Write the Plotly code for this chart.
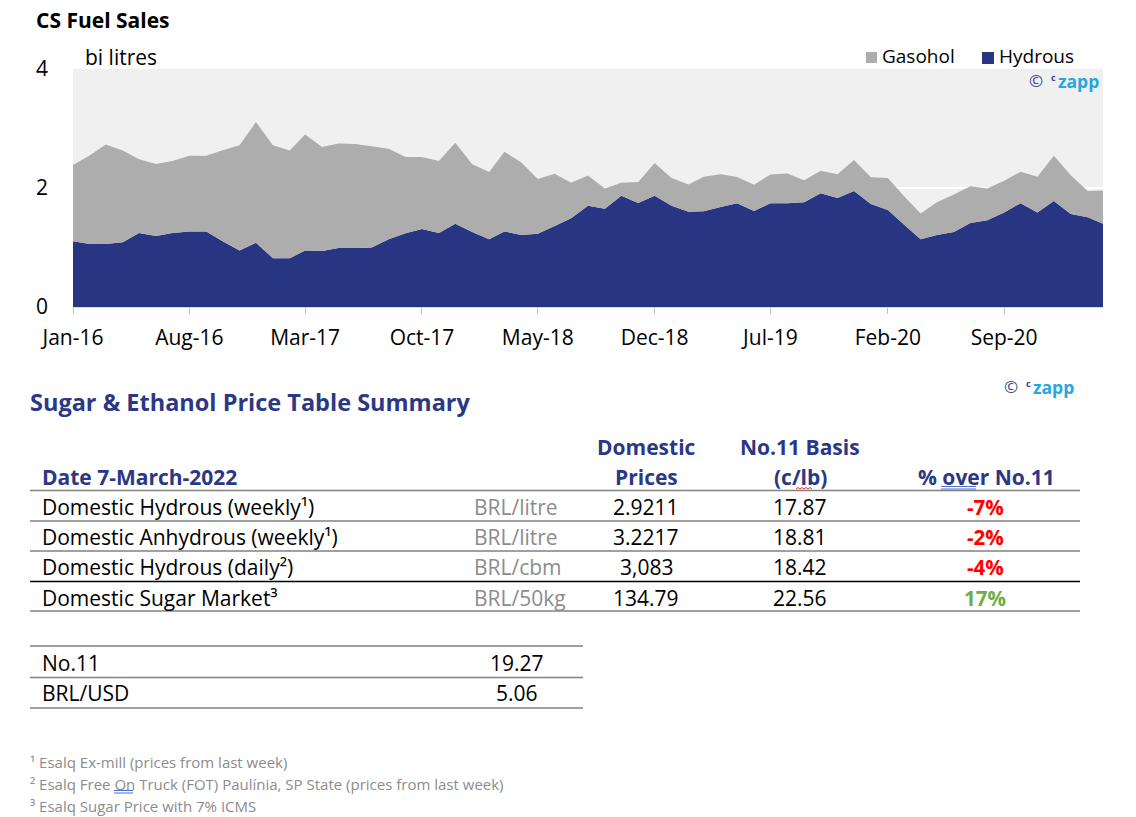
import plotly.graph_objects as go
import pandas as pd

W, H = 1136, 817
FONT = "Open Sans"
NAVY = "#283583"
GREY_FILL = "#ADADAD"
TXT_NAVY = "#2B3885"

# ---------------- data ----------------
months = pd.date_range("2016-01-01", periods=63, freq="MS")

hydrous = [1.105, 1.06, 1.06, 1.09, 1.245, 1.195, 1.245, 1.27, 1.27, 1.105,
           0.95, 1.08, 0.82, 0.82, 0.95, 0.94, 0.99, 0.99, 1.00, 1.14,
           1.24, 1.31, 1.245, 1.40, 1.26, 1.14, 1.27, 1.21, 1.23, 1.36,
           1.49, 1.70, 1.65, 1.87, 1.75, 1.87, 1.70, 1.60, 1.61, 1.68,
           1.745, 1.615, 1.745, 1.745, 1.76, 1.91, 1.83, 1.95, 1.73, 1.63,
           1.39, 1.14, 1.21, 1.26, 1.41, 1.46, 1.59, 1.745, 1.59, 1.78,
           1.565, 1.51, 1.40]

gasohol = [1.28, 1.49, 1.67, 1.54, 1.24, 1.21, 1.21, 1.27, 1.27, 1.53,
           1.77, 2.03, 1.90, 1.81, 1.95, 1.75, 1.76, 1.75, 1.70, 1.52,
           1.28, 1.21, 1.21, 1.36, 1.14, 1.13, 1.34, 1.22, 0.92, 0.88,
           0.60, 0.51, 0.34, 0.22, 0.35, 0.55, 0.47, 0.46, 0.58, 0.55,
           0.44, 0.44, 0.48, 0.50, 0.37, 0.38, 0.40, 0.52, 0.45, 0.54,
           0.48, 0.43, 0.55, 0.63, 0.62, 0.53, 0.53, 0.53, 0.60, 0.76,
           0.65, 0.44, 0.56]

tick_dates = ["2016-01-01", "2016-08-01", "2017-03-01", "2017-10-01", "2018-05-01",
              "2018-12-01", "2019-07-01", "2020-02-01", "2020-09-01"]
tick_labels = ["Jan-16", "Aug-16", "Mar-17", "Oct-17", "May-18",
               "Dec-18", "Jul-19", "Feb-20", "Sep-20"]
y_ticks = [0, 2, 4]

table_date = "Date 7-March-2022"
row_labels = ["Domestic Hydrous (weekly¹)",
              "Domestic Anhydrous (weekly¹)",
              "Domestic Hydrous (daily²)",
              "Domestic Sugar Market³"]
row_units = ["BRL/litre", "BRL/litre", "BRL/cbm", "BRL/50kg"]
domestic_prices = ["2.9211", "3.2217", "3,083", "134.79"]
no11_basis = ["17.87", "18.81", "18.42", "22.56"]
pct_over = ["-7%", "-2%", "-4%", "17%"]
ref_labels = ["No.11", "BRL/USD"]
ref_values = ["19.27", "5.06"]
footnotes = ["¹ Esalq Ex-mill (prices from last week)",
             "² Esalq Free On Truck (FOT) Paulínia, SP State (prices from last week)",
             "³ Esalq Sugar Price with 7% ICMS"]

# ---------------- helpers ----------------
def px(x):
    return x / W

def py(y):
    return 1 - y / H

annotations = []
shapes = []

def ann(text, x, y, size, color="#000000", bold=False, xanchor="left"):
    if bold:
        text = "<b>" + text + "</b>"
    annotations.append(dict(text=text, x=px(x), y=py(y), xref="paper", yref="paper",
                            xanchor=xanchor, yanchor="middle", showarrow=False,
                            borderpad=0,
                            font=dict(family=FONT, size=size, color=color)))

def hline(x0, x1, y, color="#808080", width=1.3):
    shapes.append(dict(type="line", xref="paper", yref="paper",
                       x0=px(x0), x1=px(x1), y0=py(y), y1=py(y),
                       line=dict(color=color, width=width)))

def watermark(xr, y):
    # "© czapp" logo text, right edge at xr
    ann("zapp", xr, y, 17.5, color="#29A6E2", bold=True, xanchor="right")
    ann("c", xr - 43, y - 3, 9, color="#3B3F98", bold=True, xanchor="right")
    ann("©", xr - 56, y, 17, color="#3B3F98", xanchor="right")

# ---------------- figure ----------------
fig = go.Figure()
fig.add_trace(go.Scatter(x=months, y=hydrous, name="Hydrous", stackgroup="one",
                         mode="none", fillcolor=NAVY, line=dict(width=0),
                         hoverinfo="x+y+name"))
fig.add_trace(go.Scatter(x=months, y=gasohol, name="Gasohol", stackgroup="one",
                         mode="none", fillcolor=GREY_FILL, line=dict(width=0),
                         hoverinfo="x+y+name"))

# chart texts
ann("CS Fuel Sales", 35, 20, 21, bold=True)
ann("bi litres", 84, 57, 21)
# legend (manual)
shapes.append(dict(type="rect", xref="paper", yref="paper", x0=px(866), x1=px(877),
                   y0=py(63), y1=py(52), fillcolor=GREY_FILL, line=dict(width=0)))
ann("Gasohol", 881, 55.5, 19)
shapes.append(dict(type="rect", xref="paper", yref="paper", x0=px(982), x1=px(994),
                   y0=py(64), y1=py(52), fillcolor=NAVY, line=dict(width=0)))
ann("Hydrous", 998, 55.5, 19)

watermark(1100, 80.5)

# table
ann("Sugar & Ethanol Price Table Summary", 29, 402, 23.5, color=TXT_NAVY, bold=True)
watermark(1075, 386.5)

ann(table_date, 41, 477, 21, color=TXT_NAVY, bold=True)
ann("Domestic", 646, 447, 21, color=TXT_NAVY, bold=True, xanchor="center")
ann("Prices", 646, 477, 21, color=TXT_NAVY, bold=True, xanchor="center")
ann("No.11 Basis", 800, 447, 21, color=TXT_NAVY, bold=True, xanchor="center")
ann("(c/lb)", 800, 477, 21, color=TXT_NAVY, bold=True, xanchor="center")
ann("% over No.11", 986, 477, 21, color=TXT_NAVY, bold=True, xanchor="center")

# spell-check marks seen in the source
shapes.append(dict(type="line", xref="paper", yref="paper", x0=px(941), x1=px(976),
                   y0=py(486.5), y1=py(486.5), line=dict(color="#4A6FD0", width=1)))
shapes.append(dict(type="line", xref="paper", yref="paper", x0=px(941), x1=px(976),
                   y0=py(489), y1=py(489), line=dict(color="#4A6FD0", width=1)))
zig = "M {} {}".format(px(796), py(489))
for k in range(1, 9):
    zig += " L {} {}".format(px(796 + 2 * k), py(489 - (1.5 if k % 2 else 0)))
shapes.append(dict(type="path", xref="paper", yref="paper", path=zig,
                   line=dict(color="#E03030", width=1)))

hline(30, 1080, 490.5)
row_y = [507, 536.5, 567, 597.5]
line_y = [521, 551, 581.5, 611]
for i in range(4):
    ann(row_labels[i], 41, row_y[i], 21)
    ann(row_units[i], 473, row_y[i], 21, color="#8C8C8C")
    ann(domestic_prices[i], 646, row_y[i], 21, xanchor="center")
    ann(no11_basis[i], 800, row_y[i], 21, xanchor="center")
    pc = "#70AD47" if not pct_over[i].startswith("-") else "#FF0000"
    ann(pct_over[i], 985, row_y[i], 20.5, color=pc, bold=True, xanchor="center")
    hline(30, 1080, line_y[i], color="#000000" if i == 2 else "#808080")

hline(30, 583, 646)
ref_y = [662.5, 693]
for i in range(2):
    ann(ref_labels[i], 41, ref_y[i], 21)
    ann(ref_values[i], 517, ref_y[i], 21, xanchor="center")
    hline(30, 583, [677.5, 708][i])

foot_y = [762, 784, 806]
for i in range(3):
    ann(footnotes[i], 29, foot_y[i], 15, color="#8C8C8C")
for yy in (790.5, 793):
    shapes.append(dict(type="line", xref="paper", yref="paper", x0=px(114), x1=px(133),
                       y0=py(yy), y1=py(yy), line=dict(color="#4A6FD0", width=1)))

fig.update_layout(
    width=W, height=H, autosize=False,
    margin=dict(l=0, r=0, t=0, b=0, pad=0),
    paper_bgcolor="white", plot_bgcolor="#F0F0F0",
    font=dict(family=FONT, size=18, color="#000000"),
    showlegend=False,
    annotations=annotations, shapes=shapes,
    xaxis=dict(type="date", domain=[px(73), px(1103)], automargin=False,
               range=[months[0], months[-1]],
               tickvals=tick_dates, ticktext=tick_labels,
               ticks="outside", ticklen=6, tickcolor="#BFBFBF", tickwidth=1.3,
               showgrid=False, showline=True, linecolor="#D9D9D9", zeroline=False,
               tickfont=dict(size=21, color="#000000"), ticklabelstandoff=6),
    yaxis=dict(domain=[py(307), py(69)], range=[0, 4], tickvals=y_ticks,
               automargin=False,
               showgrid=True, gridcolor="#FFFFFF", gridwidth=1.5,
               zeroline=False, showline=False, ticks="",
               tickfont=dict(size=21, color="#000000"), ticklabelstandoff=24),
)

fig.write_html("out.html", config={"displayModeBar": False},
               post_script="document.body.style.margin='0';document.body.style.overflow='hidden';")
